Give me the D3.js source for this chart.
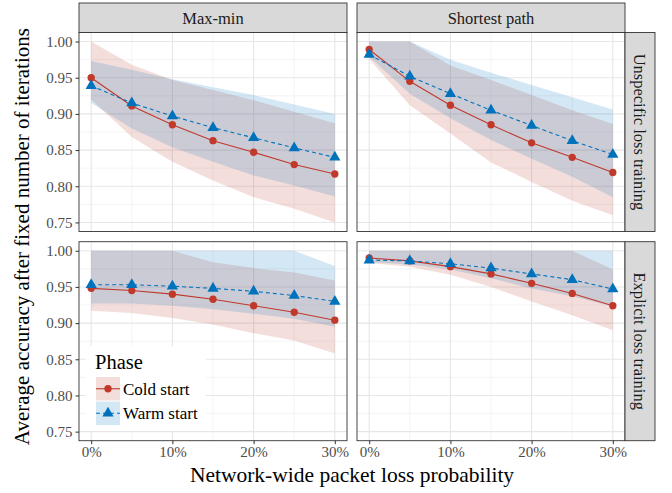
<!DOCTYPE html>
<meta charset="utf-8">
<script src="https://d3js.org/d3.v7.min.js"></script>
<style>
  body { margin: 0; background: #fff; }
  text { font-family: "Liberation Serif", "Times New Roman", serif; }
</style>
<div id="chart"></div>
<script>

// ---- data ----
var lossLevels = [0, 5, 10, 15, 20, 25, 30];
var algorithms = ["Max-min", "Shortest path"];
var trainings = ["Unspecific loss training", "Explicit loss training"];
var phases = ["Cold start", "Warm start"];
var xTicks = [0, 10, 20, 30];
var yTicks = [0.75, 0.80, 0.85, 0.90, 0.95, 1.00];

// Max-min, unspecific loss training
var mmUnspecCold   = [0.950, 0.911, 0.885, 0.863, 0.847, 0.830, 0.817];
var mmUnspecColdLo = [0.920, 0.868, 0.834, 0.808, 0.785, 0.769, 0.750];
var mmUnspecColdHi = [1.000, 0.968, 0.947, 0.933, 0.919, 0.903, 0.887];
var mmUnspecWarm   = [0.939, 0.915, 0.897, 0.881, 0.867, 0.853, 0.840];
var mmUnspecWarmLo = [0.915, 0.880, 0.854, 0.834, 0.815, 0.801, 0.786];
var mmUnspecWarmHi = [0.973, 0.961, 0.948, 0.937, 0.926, 0.913, 0.900];

// Shortest path, unspecific loss training
var spUnspecCold   = [0.989, 0.945, 0.912, 0.885, 0.860, 0.840, 0.819];
var spUnspecColdLo = [0.976, 0.912, 0.873, 0.833, 0.806, 0.780, 0.760];
var spUnspecColdHi = [1.000, 1.000, 0.967, 0.947, 0.926, 0.905, 0.886];
var spUnspecWarm   = [0.982, 0.952, 0.928, 0.905, 0.884, 0.863, 0.844];
var spUnspecWarmLo = [0.979, 0.928, 0.894, 0.864, 0.838, 0.813, 0.785];
var spUnspecWarmHi = [1.000, 1.000, 0.975, 0.957, 0.940, 0.923, 0.906];

// Max-min, explicit loss training
var mmExplCold   = [0.948, 0.945, 0.940, 0.933, 0.924, 0.915, 0.904];
var mmExplColdLo = [0.917, 0.914, 0.907, 0.898, 0.886, 0.876, 0.858];
var mmExplColdHi = [1.000, 1.000, 1.000, 0.984, 0.976, 0.970, 0.959];
var mmExplWarm   = [0.953, 0.953, 0.951, 0.948, 0.944, 0.938, 0.930];
var mmExplWarmLo = [0.927, 0.927, 0.924, 0.919, 0.913, 0.906, 0.895];
var mmExplWarmHi = [1.000, 1.000, 1.000, 1.000, 1.000, 1.000, 0.979];

// Shortest path, explicit loss training
var spExplCold   = [0.990, 0.986, 0.978, 0.968, 0.955, 0.941, 0.924];
var spExplColdLo = [0.983, 0.978, 0.967, 0.950, 0.930, 0.911, 0.890];
var spExplColdHi = [1.000, 1.000, 1.000, 1.000, 1.000, 1.000, 0.974];
var spExplWarm   = [0.987, 0.986, 0.982, 0.976, 0.968, 0.960, 0.947];
var spExplWarmLo = [0.984, 0.981, 0.974, 0.962, 0.948, 0.937, 0.923];
var spExplWarmHi = [1.000, 1.000, 1.000, 1.000, 1.000, 1.000, 1.000];

// panels[row][col] -> {cold: [mean, lo, hi], warm: [mean, lo, hi]}
var panels = [
  [ {cold: [mmUnspecCold, mmUnspecColdLo, mmUnspecColdHi], warm: [mmUnspecWarm, mmUnspecWarmLo, mmUnspecWarmHi]},
    {cold: [spUnspecCold, spUnspecColdLo, spUnspecColdHi], warm: [spUnspecWarm, spUnspecWarmLo, spUnspecWarmHi]} ],
  [ {cold: [mmExplCold, mmExplColdLo, mmExplColdHi], warm: [mmExplWarm, mmExplWarmLo, mmExplWarmHi]},
    {cold: [spExplCold, spExplColdLo, spExplColdHi], warm: [spExplWarm, spExplWarmLo, spExplWarmHi]} ]
];

// ---- layout ----
var W = 672, H = 493;
var colX = [[79, 347], [357, 625]];
var rowY = [[32.5, 231.5], [241.7, 440.7]];
var stripTop = 3, stripRight = 655;

var red = "#C0392B", blue = "#0072BB";
var ribbonAlpha = 0.17;

var svg = d3.select("#chart").append("svg")
  .attr("width", W).attr("height", H);

function makeX(c) {
  return d3.scaleLinear().domain([-1.5, 31.5]).range(colX[c]);
}
function makeY(r) {
  return d3.scaleLinear().domain([0.7375, 1.0125]).range([rowY[r][1], rowY[r][0]]);
}

var minorX = [5, 15, 25];
var minorY = [0.775, 0.825, 0.875, 0.925, 0.975];

for (var r = 0; r < 2; r++) {
  for (var c = 0; c < 2; c++) {
    var x = makeX(c), y = makeY(r);
    var g = svg.append("g");
    var x0 = colX[c][0], x1 = colX[c][1], y0 = rowY[r][0], y1 = rowY[r][1];

    g.append("rect").attr("x", x0).attr("y", y0)
      .attr("width", x1 - x0).attr("height", y1 - y0).attr("fill", "#fff");

    // grid
    g.selectAll(".minx").data(minorX).enter().append("line")
      .attr("x1", d => x(d)).attr("x2", d => x(d)).attr("y1", y0).attr("y2", y1)
      .attr("stroke", "#ececec").attr("stroke-width", 0.6);
    g.selectAll(".miny").data(minorY).enter().append("line")
      .attr("y1", d => y(d)).attr("y2", d => y(d)).attr("x1", x0).attr("x2", x1)
      .attr("stroke", "#ececec").attr("stroke-width", 0.6);
    g.selectAll(".majx").data(xTicks).enter().append("line")
      .attr("x1", d => x(d)).attr("x2", d => x(d)).attr("y1", y0).attr("y2", y1)
      .attr("stroke", "#e6e6e6").attr("stroke-width", 1.1);
    g.selectAll(".majy").data(yTicks).enter().append("line")
      .attr("y1", d => y(d)).attr("y2", d => y(d)).attr("x1", x0).attr("x2", x1)
      .attr("stroke", "#e6e6e6").attr("stroke-width", 1.1);

    var p = panels[r][c];
    var series = [
      {vals: p.cold, color: red, dash: null, shape: "circle"},
      {vals: p.warm, color: blue, dash: "4,3", shape: "triangle"}
    ];

    // ribbons
    series.forEach(function(s) {
      var area = d3.area()
        .x((d, i) => x(lossLevels[i]))
        .y0((d, i) => y(s.vals[1][i]))
        .y1((d, i) => y(s.vals[2][i]));
      g.append("path").datum(lossLevels).attr("d", area)
        .attr("fill", s.color).attr("fill-opacity", ribbonAlpha);
    });

    // lines + points
    series.forEach(function(s) {
      var line = d3.line().x((d, i) => x(lossLevels[i])).y((d, i) => y(s.vals[0][i]));
      g.append("path").datum(lossLevels).attr("d", line)
        .attr("fill", "none").attr("stroke", s.color).attr("stroke-width", 1.1)
        .attr("stroke-dasharray", s.dash);
      var sym = d3.symbol().type(s.shape === "circle" ? d3.symbolCircle : d3.symbolTriangle)
        .size(s.shape === "circle" ? 42 : 55);
      g.selectAll(".pt").data(lossLevels).enter().append("path")
        .attr("d", sym)
        .attr("transform", (d, i) => "translate(" + x(d) + "," + y(s.vals[0][i]) + ")")
        .attr("fill", s.color);
    });

    // border
    g.append("rect").attr("x", x0).attr("y", y0)
      .attr("width", x1 - x0).attr("height", y1 - y0)
      .attr("fill", "none").attr("stroke", "#333").attr("stroke-width", 0.9);

    // y axis on left column
    if (c === 0) {
      var ya = svg.append("g").attr("transform", "translate(" + x0 + ",0)")
        .call(d3.axisLeft(y).tickValues(yTicks).tickFormat(d3.format(".2f")).tickSize(3.5).tickPadding(3));
      ya.select(".domain").remove();
      ya.selectAll("line").attr("stroke", "#333");
      ya.selectAll("text").attr("fill", "#4d4d4d").style("font-size", "15px")
        .style("font-family", '"Liberation Serif", serif');
    }
    // x axis on bottom row
    if (r === 1) {
      var xa = svg.append("g").attr("transform", "translate(0," + y1 + ")")
        .call(d3.axisBottom(x).tickValues(xTicks).tickFormat(d => d + "%").tickSize(3.5).tickPadding(2));
      xa.select(".domain").remove();
      xa.selectAll("line").attr("stroke", "#333");
      xa.selectAll("text").attr("fill", "#4d4d4d").style("font-size", "15px")
        .style("font-family", '"Liberation Serif", serif');
    }
  }
}

// top strips
algorithms.forEach(function(a, c) {
  svg.append("rect").attr("x", colX[c][0]).attr("y", stripTop)
    .attr("width", colX[c][1] - colX[c][0]).attr("height", rowY[0][0] - stripTop)
    .attr("fill", "#d9d9d9").attr("stroke", "#333").attr("stroke-width", 0.9);
  svg.append("text").attr("x", (colX[c][0] + colX[c][1]) / 2)
    .attr("y", (stripTop + rowY[0][0]) / 2).attr("dy", "0.35em")
    .attr("text-anchor", "middle").attr("fill", "#1a1a1a").style("font-size", "16.5px")
    .text(a);
});

// right strips
trainings.forEach(function(t, r) {
  svg.append("rect").attr("x", colX[1][1]).attr("y", rowY[r][0])
    .attr("width", stripRight - colX[1][1]).attr("height", rowY[r][1] - rowY[r][0])
    .attr("fill", "#d9d9d9").attr("stroke", "#333").attr("stroke-width", 0.9);
  var cx = (colX[1][1] + stripRight) / 2, cy = (rowY[r][0] + rowY[r][1]) / 2;
  svg.append("text").attr("transform", "translate(" + cx + "," + cy + ") rotate(90)")
    .attr("dy", "0.35em").attr("text-anchor", "middle").attr("fill", "#1a1a1a")
    .style("font-size", "16.5px").text(t);
});

// axis titles
svg.append("text").attr("x", (colX[0][0] + colX[1][1]) / 2).attr("y", 482)
  .attr("text-anchor", "middle").style("font-size", "21.5px").attr("fill", "#000")
  .text("Network-wide packet loss probability");
svg.append("text").attr("transform", "translate(29," + (rowY[0][0] + rowY[1][1]) / 2 + ") rotate(-90)")
  .attr("text-anchor", "middle").style("font-size", "21px").attr("fill", "#000")
  .text("Average accuracy after fixed number of iterations");

// legend
var lg = svg.append("g");
lg.append("rect").attr("x", 86).attr("y", 346).attr("width", 120).attr("height", 85).attr("fill", "#fff");
lg.append("text").attr("x", 95).attr("y", 369).style("font-size", "20.5px").text("Phase");
var keyColors = [red, blue];
phases.forEach(function(ph, i) {
  var ky = 377 + i * 24.5, kx = 96, kw = 24, kh = 23.5;
  lg.append("rect").attr("x", kx).attr("y", ky).attr("width", kw).attr("height", kh)
    .attr("fill", keyColors[i]).attr("fill-opacity", ribbonAlpha);
  lg.append("line").attr("x1", kx).attr("x2", kx + kw).attr("y1", ky + kh / 2).attr("y2", ky + kh / 2)
    .attr("stroke", keyColors[i]).attr("stroke-width", 1.1).attr("stroke-dasharray", i ? "4,3" : null);
  lg.append("path").attr("d", d3.symbol().type(i ? d3.symbolTriangle : d3.symbolCircle).size(i ? 55 : 42))
    .attr("transform", "translate(" + (kx + kw / 2) + "," + (ky + kh / 2) + ")").attr("fill", keyColors[i]);
  lg.append("text").attr("x", 123).attr("y", ky + kh / 2).attr("dy", "0.35em")
    .style("font-size", "17px").text(ph);
});
</script>
